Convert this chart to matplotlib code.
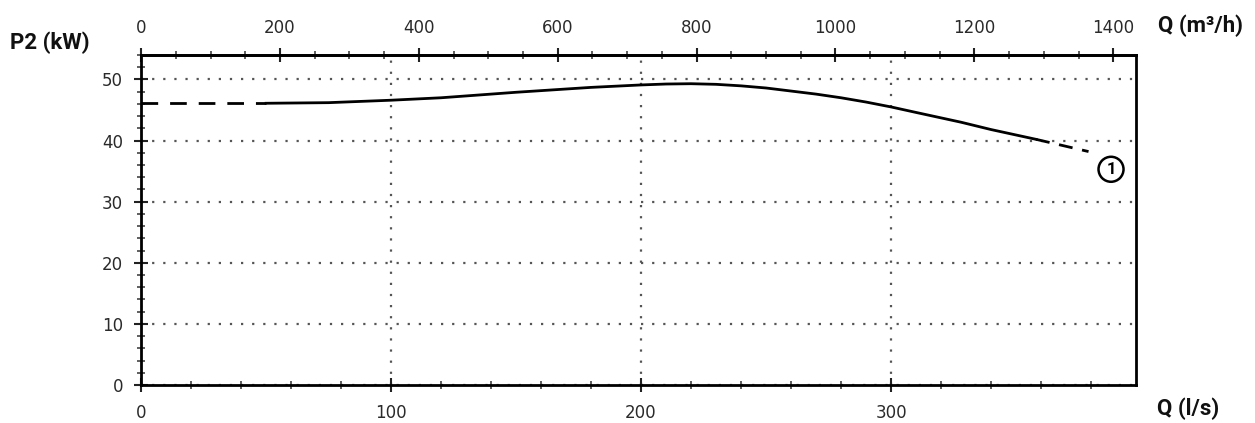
import matplotlib
matplotlib.use("Agg")
import matplotlib.pyplot as plt
from matplotlib.ticker import MultipleLocator

# Data (Q in l/s, P2 in kW)
q_dash_lo = [0, 50]
p_dash_lo = [46.1, 46.1]
q_solid = [50, 75, 100, 120, 150, 180, 200, 210, 220, 230, 240, 250, 260, 270,
           280, 290, 300, 310, 328, 340, 358]
p_solid = [46.1, 46.2, 46.6, 47.0, 47.9, 48.7, 49.1, 49.25, 49.3, 49.2, 48.95, 48.6,
           48.1, 47.6, 47.0, 46.3, 45.5, 44.6, 43.0, 41.8, 40.2]
q_dash_hi = [358, 379]
p_dash_hi = [40.2, 38.2]

x_ticks = [0, 100, 200, 300]
y_ticks = [0, 10, 20, 30, 40, 50]
top_ticks = [0, 200, 400, 600, 800, 1000, 1200, 1400]

fig = plt.figure(figsize=(12.55, 4.23), dpi=100)
ax = fig.add_axes([0.1124, 0.0898, 0.7928, 0.7802])

lw = 2.0
ax.plot(q_dash_lo, p_dash_lo, color="black", lw=lw, dashes=(6, 4.3))
ax.plot(q_solid, p_solid, color="black", lw=lw)
ax.plot(q_dash_hi, p_dash_hi, color="black", lw=lw, dashes=(5, 3.5))

ax.set_xlim(0, 398)
ax.set_ylim(0, 54)
ax.set_xticks(x_ticks)
ax.set_yticks(y_ticks)
ax.xaxis.set_minor_locator(MultipleLocator(20))
ax.yaxis.set_minor_locator(MultipleLocator(2))
ax.grid(True, which="major", color="#555555", linestyle=(0, (1, 4)), lw=1.6)

for s in ax.spines.values():
    s.set_linewidth(2.0)
    s.set_color("black")

tick_col = "#2a2a2a"
ax.tick_params(axis="both", which="major", direction="inout", length=10, width=1.5,
               labelsize=12, labelcolor=tick_col, color="#222222")
ax.tick_params(axis="both", which="minor", direction="inout", length=6, width=1.2,
               color="#444444")
ax.tick_params(axis="x", which="major", pad=9)
ax.tick_params(axis="y", which="major", pad=8)

sec = ax.secondary_xaxis("top", functions=(lambda x: x * 3.6, lambda x: x / 3.6))
sec.set_xticks(top_ticks)
sec.xaxis.set_minor_locator(MultipleLocator(50))
sec.spines["top"].set_linewidth(2.0)
sec.tick_params(axis="x", which="major", direction="inout", length=10, width=1.5,
                labelsize=12, labelcolor=tick_col, pad=8, color="#222222")
sec.tick_params(axis="x", which="minor", direction="inout", length=6, width=1.2,
                color="#444444")

lab = dict(fontsize=16, fontweight="bold", family="Roboto", color="#111111")
fig.text(10 / 1255, 1 - 43 / 423, "P2 (kW)", ha="left", va="center", **lab)
fig.text(1158 / 1255, 1 - 26 / 423, "Q (m³/h)", ha="left", va="center", **lab)
fig.text(1157 / 1255, 1 - 409 / 423, "Q (l/s)", ha="left", va="center", **lab)

ax.text(388, 35.3, "1", ha="center", va="center", fontsize=12, fontweight="bold",
        family="Roboto",
        bbox=dict(boxstyle="circle,pad=0.3", fc="white", ec="black", lw=1.8))

fig.savefig("out.png", dpi=100)
